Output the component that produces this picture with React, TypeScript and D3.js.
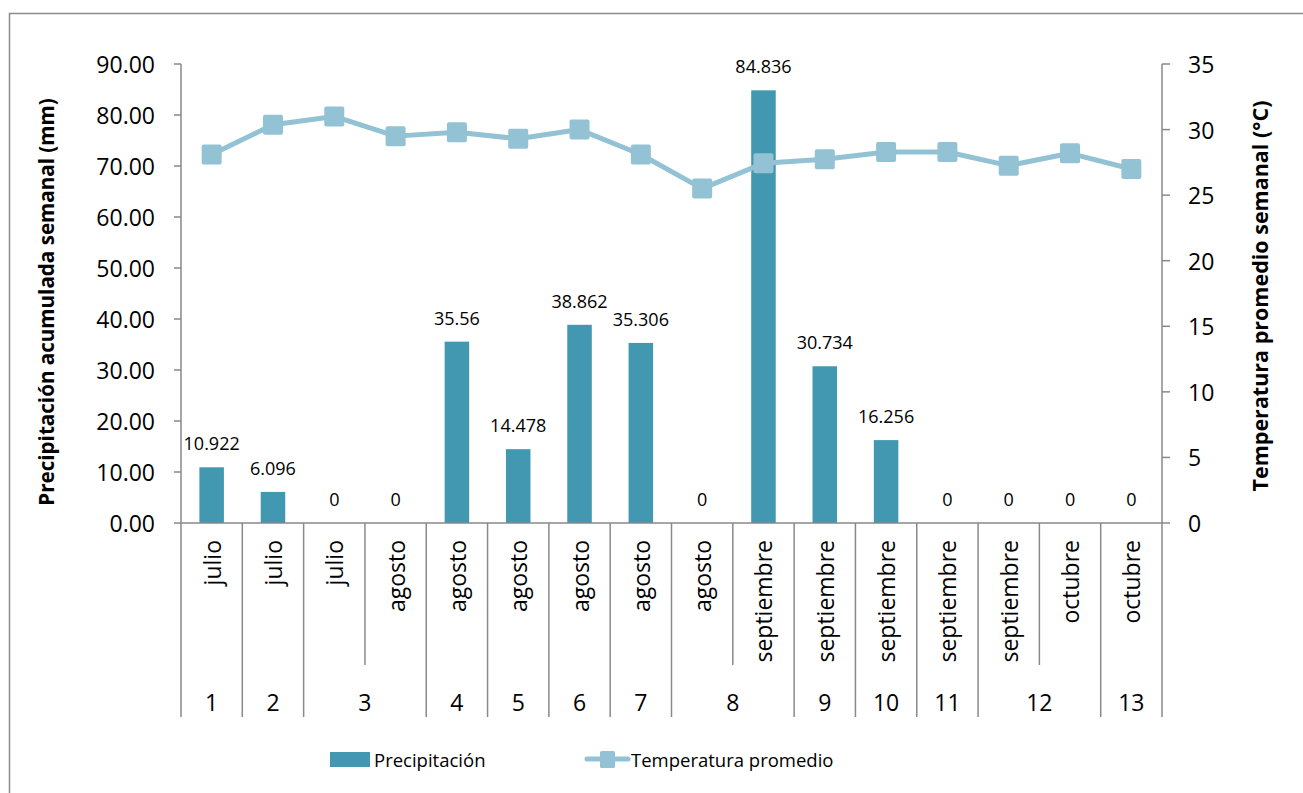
import React from "react";
import * as d3 from "d3";

const months = ["julio","julio","julio","agosto","agosto","agosto","agosto","agosto","agosto","septiembre","septiembre","septiembre","septiembre","septiembre","octubre","octubre"];
const weekLabels = ["1","2","3","4","5","6","7","8","9","10","11","12","13"];
const weekSpans = [1,1,2,1,1,1,1,2,1,1,1,2,1];
const precipitation = [10.922,6.096,0,0,35.56,14.478,38.862,35.306,0,84.836,30.734,16.256,0,0,0,0];
const precipLabels = ["10.922","6.096","0","0","35.56","14.478","38.862","35.306","0","84.836","30.734","16.256","0","0","0","0"];
const temperature = [28.1,30.37,31.0,29.5,29.8,29.3,30.0,28.1,25.5,27.43,27.73,28.29,28.29,27.25,28.19,26.99];
const leftTicks = [0,10,20,30,40,50,60,70,80,90];
const rightTicks = [0,5,10,15,20,25,30,35];

const W = 1303, H = 793;
const FONT = "'Open Sans', 'Noto Sans', sans-serif";
const AX = "#898989";
const BAR = "#4298b0";
const LINE = "#92c2d4";

export default function App() {
  const left = 181, right = 1162, top = 64, bottom = 523;
  const idx = months.map((_, i) => i);
  const x = d3.scaleBand<number>().domain(idx).range([left, right]).paddingInner(0.6).paddingOuter(0.3);
  const step = x.step();
  const cx = (i: number) => (x(i) as number) + x.bandwidth() / 2;
  const yL = d3.scaleLinear().domain([0, 90]).range([bottom, top]);
  const yR = d3.scaleLinear().domain([0, 35]).range([bottom, top]);
  const line = d3.line<number>().x((_, i) => cx(i)).y((d) => yR(d));

  const boundaries: { x: number; major: boolean }[] = [];
  let acc = 0;
  const groupCenters: number[] = [];
  weekSpans.forEach((s) => {
    const start = acc;
    boundaries.push({ x: left + start * step, major: true });
    for (let k = 1; k < s; k++) boundaries.push({ x: left + (start + k) * step, major: false });
    groupCenters.push(left + (start + s / 2) * step);
    acc += s;
  });
  boundaries.push({ x: left + acc * step, major: true });

  return (
    <svg width={W} height={H} style={{ position: "absolute", left: 0, top: 0, background: "#fff" }} fontFamily={FONT}>
      <rect x={9.5} y={13.5} width={W + 20} height={H + 20} fill="#fff" stroke="#8c8c8c" strokeWidth={1.5} />

      {precipitation.map((v, i) => (
        <rect key={"b" + i} x={x(i)} y={yL(v)} width={x.bandwidth()} height={bottom - yL(v)} fill={BAR} />
      ))}

      <line x1={left} y1={top} x2={left} y2={bottom} stroke={AX} strokeWidth={1.5} />
      <line x1={right} y1={top} x2={right} y2={bottom} stroke={AX} strokeWidth={1.5} />
      <line x1={left} y1={bottom} x2={right} y2={bottom} stroke={AX} strokeWidth={1.5} />
      {leftTicks.map((t) => (
        <g key={"lt" + t}>
          <line x1={left - 7} x2={left} y1={yL(t)} y2={yL(t)} stroke={AX} strokeWidth={1.5} />
          <text x={155} y={yL(t)} textAnchor="end" dominantBaseline="central" fontSize={23} fill="#000">{d3.format(".2f")(t)}</text>
        </g>
      ))}
      {rightTicks.map((t) => (
        <g key={"rt" + t}>
          <line x1={right} x2={right + 8} y1={yR(t)} y2={yR(t)} stroke={AX} strokeWidth={1.5} />
          <text x={1188} y={yR(t)} textAnchor="start" dominantBaseline="central" fontSize={23} fill="#000">{t}</text>
        </g>
      ))}

      {boundaries.map((b, i) => (
        <line key={"bd" + i} x1={b.x} x2={b.x} y1={bottom} y2={b.major ? 717 : 665} stroke={AX} strokeWidth={1.5} />
      ))}
      {months.map((m, i) => (
        <text key={"m" + i} transform={`translate(${cx(i)},540) rotate(-90)`} textAnchor="end" dominantBaseline="central" fontSize={23} fill="#000">{m}</text>
      ))}
      {weekLabels.map((w, i) => (
        <text key={"w" + i} x={groupCenters[i]} y={702} textAnchor="middle" dominantBaseline="central" fontSize={23} fill="#000">{w}</text>
      ))}

      <path d={line(temperature) || ""} fill="none" stroke={LINE} strokeWidth={5} strokeLinejoin="round" />
      {temperature.map((v, i) => (
        <rect key={"mk" + i} x={cx(i) - 10} y={yR(v) - 10} width={20} height={20} rx={2} fill={LINE} />
      ))}

      {precipitation.map((v, i) => (
        <text key={"dl" + i} x={cx(i)} y={yL(v) - 17} textAnchor="middle" fontSize={18} fill="#000">{precipLabels[i]}</text>
      ))}

      <text transform={`translate(46,302) rotate(-90)`} textAnchor="middle" dominantBaseline="central" fontSize={20.6} fontWeight="bold" fill="#000">Precipitación acumulada semanal (mm)</text>
      <text transform={`translate(1259,296) rotate(-90)`} textAnchor="middle" dominantBaseline="central" fontSize={21.5} fontWeight="bold" fill="#000">Temperatura promedio semanal (°C)</text>

      <rect x={330} y={752} width={40} height={15} fill={BAR} />
      <text x={374} y={759} dominantBaseline="central" fontSize={18.5} fill="#000">Precipitación</text>
      <line x1={587} x2={628} y1={759} y2={759} stroke={LINE} strokeWidth={5} strokeLinecap="round" />
      <rect x={600} y={751} width={15} height={17} rx={1.5} fill={LINE} />
      <text x={631} y={759} dominantBaseline="central" fontSize={18.5} fill="#000">Temperatura promedio</text>
    </svg>
  );
}
